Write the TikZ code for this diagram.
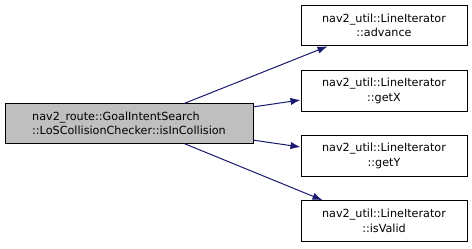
\documentclass[tikz,border=0pt]{standalone}
\usepackage{fontspec}
\setmainfont{DejaVu Sans}
\usetikzlibrary{arrows.meta,calc}
\definecolor{edgecol}{HTML}{191970}
\definecolor{mainfill}{HTML}{BFBFBF}
\begin{document}
\begin{tikzpicture}[x=0.75pt,y=-0.75pt,
  box/.style={draw=black,line width=0.75pt,inner sep=0pt,font=\fontsize{8.4pt}{10.8pt}\selectfont},
  callee/.style={box,fill=white,minimum width=124.5pt,minimum height=30.5pt,align=center},
  caller/.style={box,fill=mainfill,minimum width=186pt,minimum height=29.5pt,align=left},
  edge/.style={draw=edgecol,line width=0.75pt,-{Latex[length=7.5pt,width=5.5pt]}}]
\useasboundingbox (0,0) rectangle (472,248);
\node[caller] (L) at (129,123.5) {nav2\_route::GoalIntentSearch\\::LoSCollisionChecker::isInCollision};
\node[callee] (A) at (384,25.5) {nav2\_util::LineIterator\\::advance};
\node[callee] (X) at (384,91) {nav2\_util::LineIterator\\::getX};
\node[callee] (Y) at (384,156) {nav2\_util::LineIterator\\::getY};
\node[callee] (V) at (384,221) {nav2\_util::LineIterator\\::isValid};
\draw[edge] ($(L.north west)+(180,0)$) -- ($(A.south west)+(27,0)$);
\draw[edge] ($(L.north east)+(0,3.5)$) -- ($(X.west)+(0,9)$);
\draw[edge] ($(L.south east)+(0,-3.5)$) -- ($(Y.west)+(0,-9)$);
\draw[edge] ($(L.south west)+(180,0)$) -- ($(V.north west)+(22,0)$);
\end{tikzpicture}
\end{document}
